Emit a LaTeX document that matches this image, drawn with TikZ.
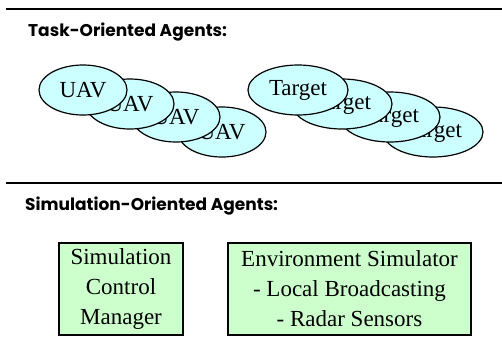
\documentclass[tikz,border=0pt]{standalone}
\usepackage{fontspec}
\setmainfont{Liberation Serif}
\newfontfamily\hdrfont{Poppins}
\usetikzlibrary{shapes.geometric}
\definecolor{agentcyan}{HTML}{CCFFFF}
\definecolor{simgreen}{HTML}{CCFFCC}
\tikzset{
  agent/.style={ellipse, draw=black, line width=1.2pt, fill=agentcyan, inner sep=0pt,
    minimum height=50pt, font=\fontsize{23}{26}\selectfont},
  uav/.style={agent, minimum width=88pt},
  tgt/.style={agent, minimum width=100pt},
  simbox/.style={draw=black, line width=1.2pt, fill=simgreen, inner sep=0pt,
    minimum height=92pt, align=center, font=\fontsize{23}{30}\selectfont},
  sep/.style={line width=1.5pt},
  hdr/.style={anchor=west, inner sep=0pt, font=\hdrfont\bfseries\fontsize{17}{19}\selectfont}
}
\begin{document}
\begin{tikzpicture}[x=1pt,y=-1pt]
\useasboundingbox (0,0) rectangle (502,349);
\coordinate (l1a) at (6,9);
\coordinate (l1b) at (502,9);
\draw[sep] (l1a) -- (l1b);
\node[hdr] (h1) at (28,32) {Task-Oriented Agents:};
% UAVs, drawn back to front
\node[uav] (u4) at (222,132) {UAV};
\node[uav] (u3) at (176,117) {UAV};
\node[uav] (u2) at (130,104) {UAV};
\node[uav] (u1) at (83,90) {UAV};
% Targets
\node[tgt] (t4) at (433,132) {Target};
\node[tgt] (t3) at (390,117) {Target};
\node[tgt] (t2) at (342,104) {Target};
\node[tgt] (t1) at (298,90) {Target};
\coordinate (l2a) at (6,183);
\coordinate (l2b) at (502,183);
\draw[sep] (l2a) -- (l2b);
\node[hdr] (h2) at (25,206) {Simulation-Oriented Agents:};
\node[simbox, minimum width=124pt] (scm) at (121,289) {Simulation\\Control\\Manager};
\node[simbox, minimum width=243pt] (env) at (349.5,289) {Environment Simulator\\- Local Broadcasting\\- Radar Sensors};
\end{tikzpicture}
\end{document}
